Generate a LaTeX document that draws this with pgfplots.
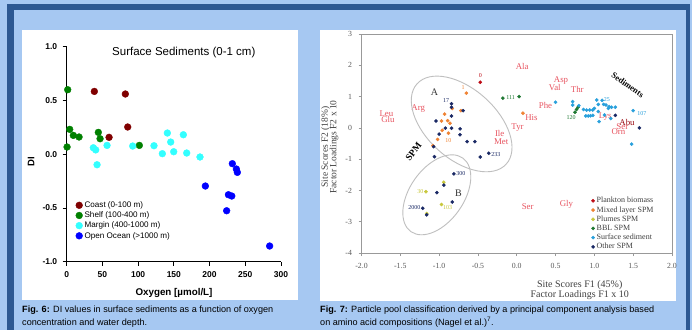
\documentclass[border=0pt]{standalone}
\usepackage{pgfplots}
\pgfplotsset{compat=1.18}
\usepackage{fontspec}
\setmainfont{Liberation Sans}
\newfontfamily\timesf{Liberation Serif}
\usetikzlibrary{shapes.geometric}
\definecolor{bgblue}{RGB}{166,200,242}
\definecolor{frameblue}{RGB}{44,88,146}
\definecolor{coast}{RGB}{128,0,0}
\definecolor{shelf}{RGB}{0,128,0}
\definecolor{margin}{RGB}{51,255,255}
\definecolor{ocean}{RGB}{0,0,255}
\definecolor{aared}{RGB}{232,84,96}
\definecolor{plank}{RGB}{190,10,20}
\definecolor{mixed}{RGB}{240,130,50}
\definecolor{plume}{RGB}{200,200,60}
\definecolor{bbl}{RGB}{30,120,50}
\definecolor{sedi}{RGB}{40,160,220}
\definecolor{other}{RGB}{25,40,100}
\begin{document}
\begin{tikzpicture}[x=1pt,y=1pt]
\useasboundingbox (0,0) rectangle (692,330);
\fill[bgblue] (0,0) rectangle (692,330);
\fill[frameblue] (7,0) rectangle (14,326);
\fill[frameblue] (7,320) rectangle (690,326);
\fill[frameblue] (686,0) rectangle (690,326);
\fill[white] (22,30) rectangle (298,300);
\fill[white] (320,29) rectangle (676,300);

% ---------------- Fig 6 ----------------
\begin{axis}[
  at={(66.7pt,68.3pt)}, anchor=south west, scale only axis,
  width=214.3pt, height=215pt,
  xmin=0, xmax=300, ymin=-1, ymax=1,
  axis lines*=left, axis line style={black, line width=1pt, -},
  xtick={0,50,...,300}, ytick={-1,-0.5,0,0.5,1},
  tick align=outside, major tick length=4pt, tick style={black, line width=0.8pt},
  yticklabel style={/pgf/number format/fixed, /pgf/number format/fixed zerofill, /pgf/number format/precision=1, xshift=-2pt},
  xticklabel style={yshift=-2pt},
  ticklabel style={font=\bfseries\fontsize{8.5}{10}\selectfont},
  /pgf/number format/assume math mode=true,
  clip=false,
  legend cell align=left,
  legend image code/.code={\draw[#1] plot coordinates {(3.5pt,0pt)};},
  legend style={at={(0.0415,0.285)}, anchor=north west, draw=none, fill=none,
    inner sep=0pt, row sep=0.8pt, font=\fontsize{8.1}{9.5}\selectfont,
    nodes={inner xsep=2pt, inner ysep=1pt}},
]
\addplot[only marks, mark=*, mark size=3.4pt, mark options={draw=coast, fill=coast}] coordinates {
(38.7,0.584) (82.1,0.560) (85.4,0.253) (59.3,0.157)};
\addlegendentry{Coast (0-100 m)}
\addplot[only marks, mark=*, mark size=3.4pt, mark options={draw=shelf, fill=shelf}] coordinates {
(1.4,0.600) (4.2,0.231) (9.3,0.175) (17.3,0.160) (0.5,0.067) (44.3,0.203) (46.7,0.144) (101.7,0.082)};
\addlegendentry{Shelf (100-400 m)}
\addplot[only marks, mark=*, mark size=3.4pt, mark options={draw=margin, fill=margin}] coordinates {
(37.3,0.060) (40.6,0.040) (42.5,-0.098) (56.5,0.082) (92.4,0.076) (122.2,0.079) (133.9,0.005)
(140.9,0.197) (145.6,0.113) (149.8,0.023) (163.3,0.181) (168.0,0.011) (186.6,-0.026)};
\addlegendentry{Margin (400-1000 m)}
\addplot[only marks, mark=*, mark size=3.4pt, mark options={draw=ocean, fill=ocean}] coordinates {
(194.1,-0.296) (231.9,-0.088) (237.5,-0.138) (238.9,-0.169) (226.4,-0.377) (231.1,-0.389) (223.9,-0.526) (284.1,-0.854)};
\addlegendentry{Open Ocean (>1000 m)}
\end{axis}
\node[font=\fontsize{11.5}{13}\selectfont] at (183.8,277.3) {Surface Sediments (0-1 cm)};
\node[font=\bfseries\fontsize{9.5}{11}\selectfont, rotate=90] at (31,168) {DI};
\node[font=\bfseries\fontsize{9.8}{11}\selectfont] at (174,36.7) {Oxygen [µmol/L]};
\node[anchor=base west, inner sep=0pt, font=\fontsize{9.1}{10}\selectfont] at (22,17.3) {\textbf{Fig. 6:} DI values in surface sediments as a function of oxygen};
\node[anchor=base west, inner sep=0pt, font=\fontsize{9.1}{10}\selectfont] at (22,4.8) {concentration and water depth.};

% ---------------- Fig 7 ----------------
\begin{axis}[
  at={(361.5pt,77pt)}, anchor=south west, scale only axis,
  width=310.5pt, height=219pt,
  xmin=-2, xmax=2, ymin=-4, ymax=3,
  axis line style={black!40, line width=0.8pt},
  xtick={-2,-1.5,-1,-0.5,0,0.5,1,1.5,2}, ytick={-4,-3,-2,-1,0,1,2,3},
  xticklabel style={/pgf/number format/fixed, /pgf/number format/fixed zerofill, /pgf/number format/precision=1, yshift=-4pt},
  yticklabel style={xshift=-3pt},
  tick align=outside, tickpos=left, major tick length=3pt,
  tick style={black!40, line width=0.7pt},
  ticklabel style={font=\timesf\fontsize{7.8}{9}\selectfont, text=black!65},
  /pgf/number format/assume math mode=true,
  clip=false,
  legend cell align=left,
  legend image code/.code={\draw[#1] plot coordinates {(1.7pt,0pt)};},
  legend style={at={(0.74,0.26)}, anchor=north west, draw=none, fill=none,
    inner sep=0pt, row sep=0.2pt, font=\timesf\fontsize{8}{9}\selectfont, text=black!75,
    nodes={inner xsep=2pt, inner ysep=1pt}},
]
\addplot[only marks, mark=*, mark size=1.6pt, mark options={draw=plank, fill=plank}] coordinates {(-0.47,1.46)};
\addlegendentry{Plankton biomass}
\addplot[only marks, mark=*, mark size=1.6pt, mark options={draw=mixed, fill=mixed}] coordinates {
(-0.65,1.11) (-0.83,0.62) (-0.93,0.44) (-0.97,0.22) (-0.89,0.23) (-0.72,0.55) (-0.96,-0.08)
(-0.86,0.15) (-0.88,-0.17) (-1.02,-0.37) (-1.08,-0.57) (0.08,0.47)};
\addlegendentry{Mixed layer SPM}
\addplot[only marks, mark=*, mark size=1.6pt, mark options={draw=plume, fill=plume}] coordinates {
(-0.94,-1.74) (-1.17,-2.04) (-0.97,-2.45) (-1.16,-2.74)};
\addlegendentry{Plumes SPM}
\addplot[only marks, mark=*, mark size=1.6pt, mark options={draw=bbl, fill=bbl}] coordinates {
(-0.18,0.95) (0.03,1.00) (0.77,0.59) (0.75,0.50) (0.79,0.66)};
\addlegendentry{BBL SPM}
\addplot[only marks, mark=*, mark size=1.6pt, mark options={draw=sedi, fill=sedi}] coordinates {
(0.50,0.82) (0.72,0.84) (0.72,0.73) (0.80,0.71) (0.86,0.59) (0.90,0.57) (0.94,0.57) (0.98,0.57)
(0.89,0.38) (0.92,0.38) (0.95,0.39) (0.98,0.40) (1.03,0.89) (1.05,0.75) (1.12,0.75) (1.05,0.52)
(1.06,0.20) (1.15,0.73) (1.19,0.68) (1.22,0.66) (1.27,0.66) (1.13,0.41) (1.18,0.62) (1.10,0.88)
(1.50,0.55) (1.48,-0.52) (1.00,0.62) (1.21,0.30)};
\addlegendentry{Surface sediment}
\addplot[only marks, mark=*, mark size=1.6pt, mark options={draw=other, fill=other}] coordinates {
(-0.84,0.77) (-0.84,0.66) (-0.84,0.38) (-0.69,0.55) (-1.04,0.22) (-0.92,-0.01) (-0.84,-0.01)
(-0.73,-0.03) (-0.73,-0.22) (-1.00,-0.20) (-0.64,-0.44) (-0.54,-0.44) (-1.07,-0.60) (-1.06,-0.92)
(-0.47,-0.93) (-0.36,-0.81) (-0.81,-1.47) (-0.94,-1.83) (-1.03,-2.07) (-0.83,-2.37) (-1.21,-2.57)
(-1.16,-2.78) (1.58,0.00) (1.27,0.40)};
\addlegendentry{Other SPM}
% amino acid labels
\begin{scope}[every node/.style={font=\timesf\fontsize{8.8}{9}\selectfont, text=aared, inner sep=0pt}]
\node at (axis cs:0.07,1.96) {Ala};
\node at (axis cs:0.57,1.50) {Asp};
\node at (axis cs:0.49,1.29) {Val};
\node at (axis cs:0.78,1.23) {Thr};
\node at (axis cs:0.37,0.70) {Phe};
\node at (axis cs:0.19,0.34) {His};
\node at (axis cs:0.01,0.02) {Tyr};
\node at (axis cs:-0.22,-0.17) {Ile};
\node at (axis cs:-0.20,-0.43) {Met};
\node at (axis cs:-1.27,0.63) {Arg};
\node at (axis cs:-1.68,0.46) {Leu};
\node at (axis cs:-1.66,0.28) {Glu};
\node at (axis cs:0.14,-2.51) {Ser};
\node at (axis cs:0.64,-2.45) {Gly};
\node at (axis cs:1.14,0.36) {Lys};
\node at (axis cs:1.36,0.05) {Ser};
\node at (axis cs:1.31,-0.12) {Orn};
\node[text=plank!80!black] at (axis cs:1.42,0.16) {Abu};
\end{scope}
% sample labels
\begin{scope}[every node/.style={font=\timesf\fontsize{6}{7}\selectfont, inner sep=0pt}]
\node[text=plank] at (axis cs:-0.47,1.68) {0};
\node[text=mixed] at (axis cs:-0.69,1.30) {1};
\node[text=other] at (axis cs:-0.91,0.88) {17};
\node[text=mixed] at (axis cs:-0.88,-0.40) {10};
\node[text=other, anchor=west] at (axis cs:-0.33,-0.86) {233};
\node[text=other, anchor=west] at (axis cs:-0.78,-1.47) {300};
\node[text=plume, anchor=east] at (axis cs:-1.20,-2.04) {30};
\node[text=plume, anchor=west] at (axis cs:-0.95,-2.55) {103};
\node[text=other, anchor=east] at (axis cs:-1.24,-2.55) {2000};
\node[text=bbl] at (axis cs:-0.08,0.97) {111};
\node[text=bbl] at (axis cs:0.70,0.33) {120};
\node[text=sedi, anchor=west] at (axis cs:1.55,0.47) {107};
\node[text=sedi, anchor=west] at (axis cs:1.12,0.92) {25};
\end{scope}
% groups
\node[draw=black!25, line width=0.9pt, ellipse, minimum width=120pt, minimum height=70pt, rotate=-42, inner sep=0pt] at (axis cs:-0.71,0.125) {};
\node[draw=black!25, line width=0.9pt, ellipse, minimum width=90pt, minimum height=54pt, rotate=55, inner sep=0pt] at (axis cs:-1.03,-2.14) {};
\node[font=\timesf\fontsize{10}{11}\selectfont, text=black!80] at (axis cs:-1.06,1.14) {A};
\node[font=\timesf\fontsize{10}{11}\selectfont, text=black!80] at (axis cs:-0.75,-2.09) {B};
\node[font=\timesf\bfseries\fontsize{9.5}{11}\selectfont, rotate=52] at (axis cs:-1.33,-0.76) {SPM};
\node[font=\timesf\bfseries\fontsize{8.5}{10}\selectfont, rotate=-35] at (axis cs:1.43,1.37) {Sediments};
\end{axis}
\node[font=\timesf\fontsize{9.5}{11}\selectfont, text=black!75, rotate=90] at (325.5,183) {Site Scores F2 (18\%)};
\node[font=\timesf\fontsize{9.5}{11}\selectfont, text=black!75, rotate=90] at (334,183) {Factor Loadings F2 x 10};
\node[font=\timesf\fontsize{10}{11}\selectfont, text=black!75] at (579.7,45) {Site Scores F1 (45\%)};
\node[font=\timesf\fontsize{10}{11}\selectfont, text=black!75] at (579.7,35) {Factor Loadings F1 x 10};
\node[anchor=base west, inner sep=0pt, font=\fontsize{9.1}{10}\selectfont] at (320,17.3) {\textbf{Fig. 7:} Particle pool classification derived by a principal component analysis based};
\node[anchor=base west, inner sep=0pt, font=\fontsize{9.1}{10}\selectfont] at (320,4.8) {on amino acid compositions (Nagel et al.)\textsuperscript{7}.};
\end{tikzpicture}
\end{document}
